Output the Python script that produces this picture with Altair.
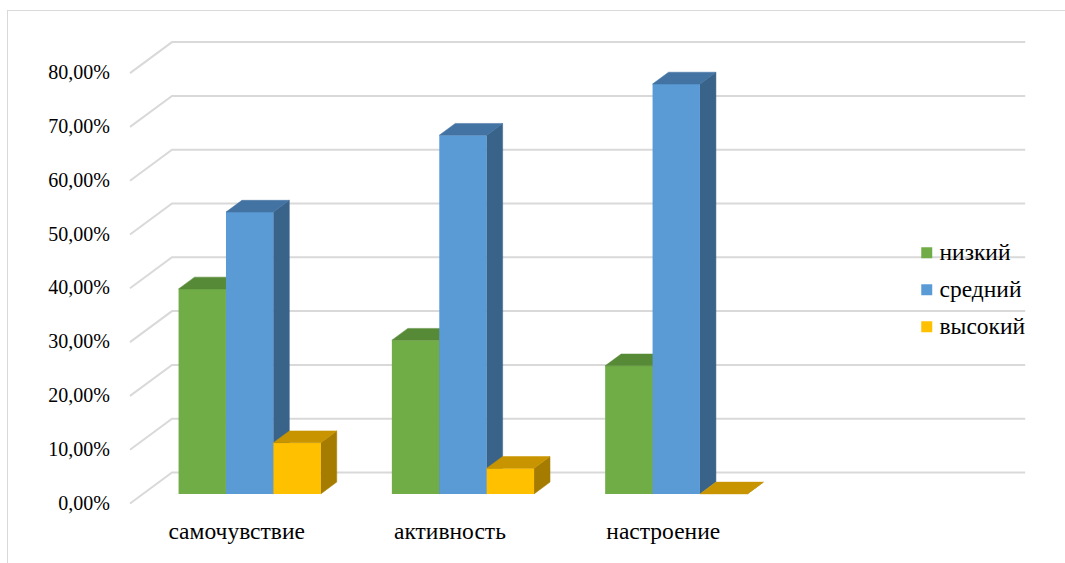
import altair as alt
import pandas as pd

# Survey results, percent of respondents per level
categories = ["самочувствие", "активность", "настроение"]
levels = ["низкий", "средний", "высокий"]
low = [38.10, 28.57, 23.81]
mid = [52.38, 66.67, 76.19]
high = [9.52, 4.76, 0.00]
ticks = [0, 10, 20, 30, 40, 50, 60, 70, 80]

front_colors = ["#70AD47", "#5B9BD5", "#FFC000"]
top_colors = ["#578A36", "#4373A3", "#C89500"]
side_colors = ["#4C7530", "#3A6389", "#A57C00"]
grid_color = "#D9D9D9"
font = "'Liberation Serif', 'Times New Roman', serif"
num_size, word_size = 20, 23.5

# Oblique 3-D projection: x in category slots, y in percent (front plane)
SX, SY = 213.3, 5.38          # pixels per slot / per percent
DX, DY = 42 / SX, 31 / SY     # full floor depth offset
D0, D1 = 0.31, 0.69           # depth occupied by the columns
BW = 1 / 4.5                  # column width (gap width 150%)
n_slots = 4
PAGE_W, PAGE_H = 1065, 563
ORIGIN_X, ORIGIN_Y, ZERO_Y = 7, 10, 503.5
W, H = PAGE_W - ORIGIN_X, PAGE_H - ORIGIN_Y

x_dom = [(ORIGIN_X - 130) / SX, (ORIGIN_X + W - 130) / SX]
y_dom = [(ZERO_Y - ORIGIN_Y - H) / SY, (ZERO_Y - ORIGIN_Y) / SY]
xs = alt.Scale(domain=x_dom, nice=False, zero=False)
ys = alt.Scale(domain=y_dom, nice=False, zero=False)

series = [low, mid, high]
sx, sy = (D1 - D0) * DX, (D1 - D0) * DY
base = D0 * DY

front_rows, top_rows, side_rows = [], [], []
for j, lvl in enumerate(levels):
    for i, cat in enumerate(categories):
        v = series[j][i]
        xl = i + 0.5 - 1.5 * BW + j * BW + D0 * DX
        xr = xl + BW
        h = base + v
        front_rows.append(dict(level=lvl, cat=cat, x=xl, x2=xr, y=base, y2=h))
        face = f"{lvl}-{cat}"
        for px, top, bot in [(xl, h, h), (xl + sx, h + sy, h),
                             (xr, h + sy, h), (xr + sx, h + sy, h + sy)]:
            top_rows.append(dict(level=lvl, face=face, x=px, top=top, bot=bot))
        for px, top, bot in [(xr, h, base), (xr + sx, h + sy, base + sy)]:
            side_rows.append(dict(level=lvl, face=face, x=px, top=top, bot=bot))

front_df = pd.DataFrame(front_rows)
top_df = pd.DataFrame(top_rows)
side_df = pd.DataFrame(side_rows)

grid_rows = []
for t in ticks:
    for k, (px, py) in enumerate([(0, t), (DX, t + DY), (n_slots + DX, t + DY)]):
        grid_rows.append(dict(tick=t, k=k, x=px, y=py))
grid_df = pd.DataFrame(grid_rows)

tick_df = pd.DataFrame({
    "y": ticks,
    "label": [f"{t:.2f}".replace(".", ",") + "%" for t in ticks],
})
cat_df = pd.DataFrame({"cat": categories, "x": [i + 0.5 for i in range(len(categories))]})

# chart frame (left and top edges)
frame = alt.Chart(pd.DataFrame({"k": [0]})).mark_rule(color=grid_color, strokeWidth=1).encode(
    x=alt.value(0.5), y=alt.value(0), y2=alt.value(H)
) + alt.Chart(pd.DataFrame({"k": [0]})).mark_rule(color=grid_color, strokeWidth=1).encode(
    x=alt.value(0), x2=alt.value(W), y=alt.value(0.5)
)

grid = alt.Chart(grid_df).mark_line(color=grid_color, strokeWidth=2).encode(
    x=alt.X("x:Q", scale=xs, axis=None),
    y=alt.Y("y:Q", scale=ys, axis=None),
    detail="tick:N",
    order="k:Q",
)

ylabels = alt.Chart(tick_df).mark_text(
    font=font, fontSize=num_size, color="#000000", align="right", baseline="middle"
).encode(
    x=alt.value(110 - ORIGIN_X),
    y=alt.Y("y:Q", scale=ys, axis=None),
    text="label:N",
)

layers = [frame, grid, ylabels]
for j, lvl in enumerate(levels):
    side = alt.Chart(side_df).transform_filter(alt.datum.level == lvl).mark_area(
        color=side_colors[j], stroke=side_colors[j], strokeWidth=0.5
    ).encode(
        x=alt.X("x:Q", scale=xs, axis=None),
        y=alt.Y("top:Q", scale=ys, axis=None),
        y2="bot:Q",
        detail="face:N",
    )
    front = alt.Chart(front_df).transform_filter(alt.datum.level == lvl).mark_rect(
        strokeWidth=0
    ).encode(
        x=alt.X("x:Q", scale=xs, axis=None),
        x2="x2:Q",
        y=alt.Y("y:Q", scale=ys, axis=None),
        y2="y2:Q",
        color=alt.Color(
            "level:N",
            scale=alt.Scale(domain=levels, range=front_colors),
            legend=alt.Legend(
                orient="none",
                legendX=915 - ORIGIN_X,
                legendY=241 - ORIGIN_Y,
                title=None,
                symbolType="square",
                symbolSize=121,
                symbolStrokeWidth=0,
                labelFont=font,
                labelFontSize=word_size,
                labelColor="#000000",
                labelOffset=1,
                rowPadding=35.5 - word_size,
                padding=0,
            ),
        ),
    )
    top = alt.Chart(top_df).transform_filter(alt.datum.level == lvl).mark_area(
        color=top_colors[j], stroke=top_colors[j], strokeWidth=0.5
    ).encode(
        x=alt.X("x:Q", scale=xs, axis=None),
        y=alt.Y("top:Q", scale=ys, axis=None),
        y2="bot:Q",
        detail="face:N",
    )
    layers += [side, front, top]

labels = alt.Chart(cat_df).mark_text(
    font=font, fontSize=word_size, color="#000000", align="center", baseline="alphabetic"
).encode(
    x=alt.X("x:Q", scale=xs, axis=None),
    y=alt.value(539 - ORIGIN_Y),
    text="cat:N",
)
layers.append(labels)

chart = alt.layer(*layers).properties(
    width=W,
    height=H,
    autosize=alt.AutoSizeParams(type="none"),
    padding={"left": ORIGIN_X, "top": ORIGIN_Y, "right": 0, "bottom": 0},
    background="#FFFFFF",
).configure_view(strokeWidth=0)

chart.save("out.html", embed_options={"renderer": "svg", "actions": False})
